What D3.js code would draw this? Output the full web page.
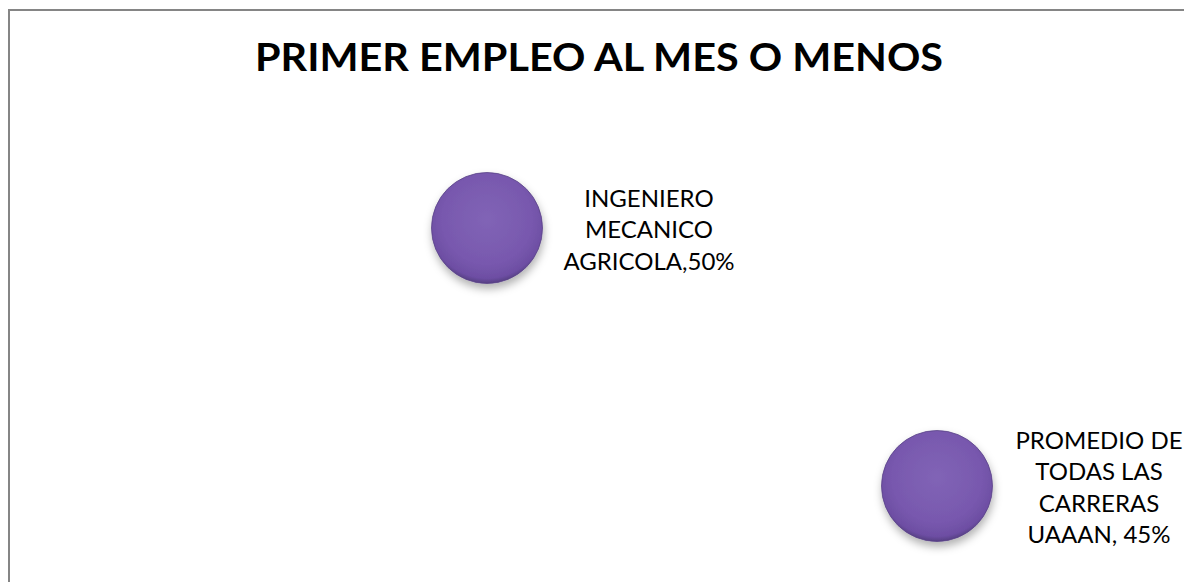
<!DOCTYPE html>
<html>
<head>
<meta charset="utf-8">
<script src="https://cdn.jsdelivr.net/npm/d3@7"></script>
<style>
  html, body { margin: 0; padding: 0; background: #fff; overflow: hidden; }
  svg { display: block; }
</style>
</head>
<body>
<div id="vis"></div>
<script>
// data
const title = 'PRIMER EMPLEO AL MES O MENOS';
const labelLines = [
  ['INGENIERO', 'MECANICO', 'AGRICOLA,50%'],
  ['PROMEDIO DE', 'TODAS LAS', 'CARRERAS', 'UAAAN, 45%']
];
const xValues = [1, 2];
const yValues = [0.50, 0.45];
const sizes = [1, 1];

const _w = 1184, _h = 582;

const svg = d3.select('#vis').append('svg')
  .attr('width', _w)
  .attr('height', _h);

// bubble look: radial gradient + soft shadow
const defs = svg.append('defs');
const grad = defs.append('radialGradient')
  .attr('id', 'bubbleGrad')
  .attr('cx', '50%').attr('cy', '42%').attr('r', '58%');
grad.append('stop').attr('offset', '0%').attr('stop-color', '#8164b6');
grad.append('stop').attr('offset', '70%').attr('stop-color', '#7858ae');
grad.append('stop').attr('offset', '92%').attr('stop-color', '#6d4ea3');
grad.append('stop').attr('offset', '100%').attr('stop-color', '#553e82');

const shadow = defs.append('filter')
  .attr('id', 'shadow')
  .attr('x', '-30%').attr('y', '-30%')
  .attr('width', '160%').attr('height', '170%');
shadow.append('feDropShadow')
  .attr('dx', 1).attr('dy', 5)
  .attr('stdDeviation', 4)
  .attr('flood-color', '#000')
  .attr('flood-opacity', 0.3);

// chart frame (runs past the right and bottom edges of the window)
svg.append('rect')
  .attr('x', 9).attr('y', 10)
  .attr('width', 1180).attr('height', 600)
  .attr('fill', '#fff')
  .attr('stroke', '#858585')
  .attr('stroke-width', 2);

svg.append('text')
  .attr('x', 599)
  .attr('y', 71)
  .attr('text-anchor', 'middle')
  .attr('font-family', 'Lato, "Open Sans", sans-serif')
  .attr('font-weight', 700)
  .attr('font-size', 38)
  .attr('textLength', 688)
  .attr('lengthAdjust', 'spacingAndGlyphs')
  .attr('fill', '#000')
  .text(title);

// hidden axes, bubble chart style
const x = d3.scaleLinear().domain([0.5, 2.5]).range([262, 1162]);
const y = d3.scaleLinear().domain([0.44, 0.51]).range([537.6, 176.4]);
const r = d3.scaleSqrt().domain([0, 1]).range([0, 55.5]);

const points = xValues.map((v, i) => ({
  x: v, y: yValues[i], size: sizes[i], lines: labelLines[i]
}));

const g = svg.append('g').attr('class', 'bubbles');

g.selectAll('circle')
  .data(points)
  .join('circle')
  .attr('cx', d => x(d.x))
  .attr('cy', d => y(d.y))
  .attr('r', d => r(d.size))
  .attr('fill', 'url(#bubbleGrad)')
  .attr('stroke', '#5b4488')
  .attr('stroke-width', 0.8)
  .attr('filter', 'url(#shadow)');

const lineH = 31.5;
const labels = svg.append('g').attr('class', 'labels')
  .selectAll('text')
  .data(points)
  .join('text')
  .attr('text-anchor', 'middle')
  .attr('font-family', 'Lato, "Open Sans", sans-serif')
  .attr('font-size', 24)
  .attr('fill', '#000');

labels.selectAll('tspan')
  .data(d => d.lines.map((t, i) => ({ t, i, n: d.lines.length, p: d })))
  .join('tspan')
  .attr('x', d => x(d.p.x) + 162)
  .attr('y', d => y(d.p.y) + (d.i - (d.n - 1) / 2) * lineH + 10)
  .text(d => d.t);
</script>
</body>
</html>
